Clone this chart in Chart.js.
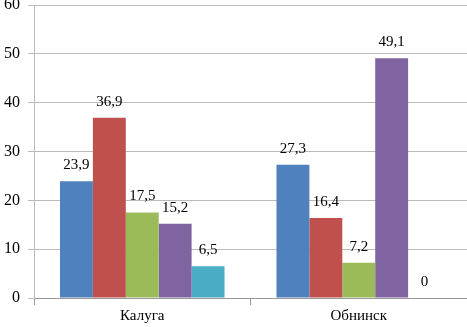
<!DOCTYPE html>
<html><head><meta charset="utf-8">
<script src="https://cdn.jsdelivr.net/npm/chart.js@4/dist/chart.umd.min.js"></script>
<style>html,body{margin:0;padding:0;background:#fff}#wrap{width:467px;height:327px}</style>
</head><body><div id="wrap"><canvas id="c"></canvas></div>
<script>
const categories = ['Калуга', 'Обнинск'];
const series1 = [23.9, 27.3];
const series2 = [36.9, 16.4];
const series3 = [17.5, 7.2];
const series4 = [15.2, 49.1];
const series5 = [6.5, 0];
const yTicks = [0, 10, 20, 30, 40, 50, 60];
const colors = ['#4F81BD', '#C0504D', '#9BBB59', '#8064A2', '#4BACC6'];
const allSeries = [series1, series2, series3, series4, series5];

const FONT = '"Times New Roman", serif';

const labelPlugin = {
  id: 'barLabels',
  afterDatasetsDraw(chart) {
    const ctx = chart.ctx;
    ctx.save();
    ctx.font = '15px ' + FONT;
    ctx.fillStyle = '#000';
    ctx.textAlign = 'center';
    ctx.textBaseline = 'middle';
    chart.data.datasets.forEach((ds, i) => {
      chart.getDatasetMeta(i).data.forEach((bar, j) => {
        const v = ds.data[j];
        ctx.fillText(String(v).replace('.', ','), bar.x, bar.y - 16);
      });
    });
    ctx.restore();
  }
};

Chart.defaults.font.family = FONT;
new Chart(document.getElementById('c'), {
  type: 'bar',
  data: {
    labels: categories,
    datasets: allSeries.map((d, i) => ({
      data: d,
      backgroundColor: colors[i],
      borderWidth: 0,
      barPercentage: 1,
      categoryPercentage: 0.76
    }))
  },
  options: {
    responsive: true,
    maintainAspectRatio: false,
    animation: false,
    layout: { padding: { top: 5, right: 0, left: 0, bottom: 0 } },
    plugins: { legend: { display: false }, tooltip: { enabled: false } },
    scales: {
      x: {
        grid: { display: true, drawOnChartArea: false, drawTicks: true, tickLength: 7, color: '#999', offset: true },
        border: { color: '#999', width: 1 },
        ticks: { font: { family: FONT, size: 15 }, color: '#000', padding: 2 }
      },
      y: {
        min: 0, max: 60,
        afterBuildTicks(scale) { scale.ticks = yTicks.map(v => ({ value: v })); },
        afterFit(scale) { scale.width = 34; scale.paddingTop = 0; },
        grid: { color: '#bbb', lineWidth: 1, tickLength: 6, drawTicks: true },
        border: { color: '#bbb', width: 1 },
        ticks: { font: { family: FONT, size: 16 }, color: '#000', padding: 8 }
      }
    }
  },
  plugins: [labelPlugin]
});
</script>
</body></html>
